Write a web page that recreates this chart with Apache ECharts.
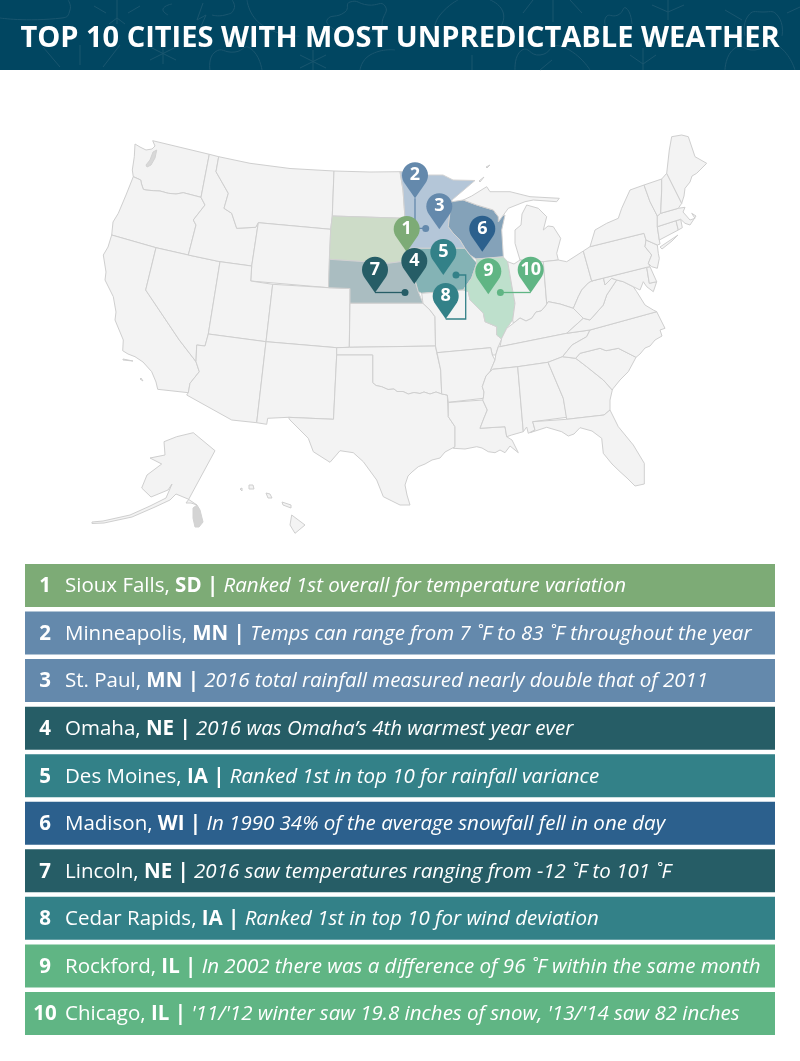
<!DOCTYPE html>
<html>
<head>
<meta charset="utf-8">
<title>Top 10 cities with most unpredictable weather</title>
<script src="https://cdn.jsdelivr.net/npm/echarts@6/dist/echarts.min.js"></script>
<style>
  html, body { margin: 0; padding: 0; background: #fff; }
  #chart { width: 800px; height: 1061px; }
</style>
</head>
<body>
<div id="chart"></div>
<script>
// table rows
const ranks = ['1', '2', '3', '4', '5', '6', '7', '8', '9', '10'];
const cities = ['Sioux Falls', 'Minneapolis', 'St. Paul', 'Omaha', 'Des Moines', 'Madison', 'Lincoln', 'Cedar Rapids', 'Rockford', 'Chicago'];
const stateCodes = ['SD', 'MN', 'MN', 'NE', 'IA', 'WI', 'NE', 'IA', 'IL', 'IL'];
const notes = [
  'Ranked 1st overall for temperature variation',
  'Temps can range from 7 ˚F to 83 ˚F throughout the year',
  '2016 total rainfall measured nearly double that of 2011',
  '2016 was Omaha’s 4th warmest year ever',
  'Ranked 1st in top 10 for rainfall variance',
  'In 1990 34% of the average snowfall fell in one day',
  '2016 saw temperatures ranging from -12 ˚F to 101 ˚F',
  'Ranked 1st in top 10 for wind deviation',
  'In 2002 there was a difference of 96 ˚F within the same month',
  "'11/'12 winter saw 19.8 inches of snow, '13/'14 saw 82 inches"
];
const rankColors = ['#7dab76', '#6489ac', '#6489ac', '#265d66', '#338188', '#2c608d', '#265d66', '#338188', '#60b584', '#60b584'];

// pin tips, map units
const pinTips = [[406.7, 252], [415, 198.3], [439.3, 229.3], [414.3, 284], [443.3, 275], [482.3, 251.7], [375, 292.7], [445.7, 319], [488.3, 294.3], [530.7, 292.7]];

// city markers that sit away from their pin
const leaderRanks = [2, 7, 8, 10];
const leaderPaths = [
  [[415, 198.3], [415, 228.4], [425.7, 228.4]],
  [[375, 292.5], [405, 292.5]],
  [[445.7, 319], [465.7, 319], [465.7, 275], [456, 275]],
  [[530.7, 292.5], [500.4, 292.5]]
];

// highlighted states, and the dense island scribbles that read as grey
const hiStates = ['SD', 'MN', 'WI', 'NE', 'IA', 'IL', 'PS', 'AI'];
const hiColors = ['#cddcc8', '#b4c6d8', '#84a2b9', '#aabdc1', '#84b3b5', '#bee0cc', '#d8d8d8', '#d4d4d4'];

// state outlines, map units
const stateShapes = [
  ['WA', '135,144 140,147 146,150 152,149 155,146 152.7,140.7 209.3,154.3 201,197.3 183.3,192.7 176,194 168.3,193.3 160,191 153.3,190.7 146,190 143.3,189.3 141.5,184 140.7,180 133.3,176.7 132.3,170 134.3,156.7'],
  ['PS', '146,165 150,160 153,152 156.7,150 155,158 151,165 147,167'],
  ['OR', '133.3,176.7 140.7,180 141.5,184 143.3,189.3 146,190 153.3,190.7 160,191 168.3,193.3 176,194 183.3,192.7 201,197.3 205,205 193.3,220 196,225 188.3,255 156,247.7 111.7,235 113,222 118.3,213.3 126,195'],
  ['CA', '111.7,235 156,247.7 145.7,290 179.3,340 196,361.7 199.3,371.7 190,383.3 188.3,392.7 157.7,389.3 156,382 151.7,371.7 143,362 135,356.7 128,354 122.7,350.7 123.3,340 115,320 116,312 113.3,296.7 105,280 106,272 103.3,255 108,247'],
  ['NV', '156,247.7 188.3,255 220,261.7 208.3,334 205,346 196.7,345 196,361.7 179.3,340 145.7,290'],
  ['ID', '209.3,154.3 218.7,156.7 216,171.7 228.3,193.3 224,208.3 231.7,213.3 236.7,228.3 255.7,227.3 258.3,222.7 251.7,266 220,261.7 188.3,255 196,225 193.3,220 205,205 201,197.3'],
  ['MT', '218.7,156.7 250,163.3 290,168.5 334,171 332.3,216 330.7,229.3 258.3,222.7 255.7,227.3 236.7,228.3 231.7,213.3 224,208.3 228.3,193.3 216,171.7'],
  ['WY', '258.3,222.7 330.7,229.3 328.5,287.7 250.7,281 251.7,266'],
  ['UT', '220,261.7 251.7,266 250.7,281 272.7,284.3 266,341.7 208.3,334'],
  ['AZ', '208.3,334 266,341.7 256.7,422.7 231.7,420 186.7,395 188.3,392.7 190,383.3 199.3,371.7 196,361.7 196.7,345 205,346'],
  ['CO', '272.7,284.3 328.5,287.7 350,288.5 349.3,347.3 336.7,347.7 266,341.7'],
  ['NM', '266,341.7 336.7,347.7 336.7,355 333.5,419.3 288.3,417.3 267.7,418.3 266.7,424.3 256.7,422.7'],
  ['ND', '334,171 370,172 400,171.7 403,190 405,218.3 332.3,216'],
  ['SD', '332.3,216 405,218.3 403,225 407,232 407,248 410,262.7 400,261.7 388.3,263.3 329.3,259.3 330.7,229.3'],
  ['NE', '329.3,259.3 388.3,263.3 400,261.7 410,262.7 415,280 418.3,291.7 423,303.3 350,303.3 350,288.5 328.5,287.7'],
  ['KS', '350,303.3 423,303.3 430,310 435,316.7 435.5,346 349.3,347.3'],
  ['OK', '336.7,347.7 349.3,347.3 435.5,346 436.7,352.7 440.7,370 441.7,394 436,392 430,394 424,392 420,393.5 414,392.5 408.3,394 403,391.5 397,391.5 394,389 388,389.5 381.7,386.7 376,385.5 372.7,382.7 372.7,355 336.7,355'],
  ['TX', '336.7,355 372.7,355 372.7,382.7 376,385.5 381.7,386.7 388,389.5 394,389 397,391.5 403,391.5 408.3,394 414,392.5 420,393.5 424,392 430,394 436,392 441.7,394 447.3,395 448.3,416.7 455,426.7 455,446.7 445,452 440,458 432,460 425,464 418.3,466.7 412,472 408,476 405,485 407,495 410,505 400,505 383.3,496.7 376.7,480 363.3,461.7 353.3,452.7 340,450.7 330,462.3 313.3,451.7 308.3,438.3 290,420 288.3,417.3 333.5,419.3'],
  ['MN', '400,171.7 414,171.7 415,166 418,172 428,175 443,175 453,180 475,180.5 452,200 450,212 448.3,226.7 453,233 460,240 465,248.3 408,248.3 407,232 403,225 405,218.3 403,190'],
  ['IA', '408,248.3 465,248.3 470,255 476.7,263 471.7,278 466.7,285 463.3,290 421.7,293.3 418.3,291.7 415,280 410,262.7'],
  ['MO', '421.7,293.3 463.3,290 468.3,291.7 470,300 483.3,313.3 485,321.7 496.7,326.7 496.7,335 501.7,339 498.3,346.7 495.7,355 492.3,355 490.7,347.7 437,352.7 435.5,346 435,316.7 430,310 423,303.3'],
  ['AR', '437,352.7 490.7,347.7 492.3,355 495,360 490,371.7 486,376 482.3,386.7 484,392 483.3,398.3 448.3,402.3 447.3,395 441.7,394 440.7,370'],
  ['LA', '448.3,402.5 482.7,400 487.3,410 484,418 480,428.3 505,426.7 506.7,436.7 512,440 518.3,452.7 510,446 505,452.7 500,450 495,452.7 488.3,451.7 482,448 476.7,446.7 465,449 453.3,448.3 455,446.7 455,426.7 448.3,416.7'],
  ['WI', '451.7,201.7 463.3,200 476.7,205 493.3,210 498.3,216.7 505,215 501.7,230 503.3,256.7 476,259 470,255 465,248.3 460,240 453,233 448.3,226.7 450,212'],
  ['IL', '476,259 503.3,257 507.7,261.7 511.7,285 515,303.3 512.7,320 506.7,328.3 501.7,339 496.7,335 496.7,326.7 485,321.7 483.3,313.3 470,300 468.3,291.7 463.3,290 466.7,285 471.7,278 476.7,263'],
  ['MI', '463.3,200 471.7,196 486.7,186.7 490,191.7 510,191.7 530,196.7 559.3,198.3 556.7,201.7 533.3,200 525,201.7 508.3,208.3 498.3,222 498.3,216.7 493.3,210 476.7,205'],
  ['ML', '543.3,261.7 520,260 515,243.3 515,230 521,225 522,214 526.7,205 538.3,208.3 546.7,216.7 543.3,230 548,226 553.3,226.7 560.7,238.3 556.7,253.3 558.3,260'],
  ['IN', '507.7,261.7 514,264 520,260 543.3,261.7 546.7,303.3 548.3,301.7 545,306.7 541,311 536,312 531.7,318.3 526,321 520,318 513.3,323.3 512.7,320 515,303.3 511.7,285'],
  ['OH', '543.3,261.7 558.3,260 566.7,261.7 583.3,251 591.7,281 588.3,283 581.7,290 578.3,296.7 573.3,308.3 560,304 548.3,301.7 546.7,303.3'],
  ['KY', '500,346.7 501.7,338.3 506.7,328.3 513.3,323.3 520,318 526,321 531.7,318.3 536,312 541,311 545,306.7 548.3,301.7 560,304 573.3,308.3 583.3,318.3 566.7,333.3'],
  ['TN', '500,346.7 566.7,333.3 590,330 586.7,336.7 572,345 562.5,356.7 548,362.3 517.7,366.7 492.7,369.3 490,371.7 495,360 495.7,355 498.3,346.7'],
  ['MS', '492.7,369.3 517.7,366.7 523.3,431.7 511.7,435 506.7,436.7 505,426.7 480,428.3 484,418 487.3,410 482.7,400 483.3,398.3 484,392 482.3,386.7 486,376 490,371.7'],
  ['AL', '517.7,366.7 548,362.3 563.3,398.3 566.7,417.3 532.7,421.7 535,430 528.3,433.3 526.7,427 523.3,431.7'],
  ['GA', '548,362.3 562.5,356.7 575.7,358.3 586.7,366.7 603.3,380 612.3,390 610,400 610,410 604,415 566.7,419.3 563.3,398.3'],
  ['FL', '532.7,421.7 566.7,419.3 604,415 610,410 618.3,426.7 633.3,445 644.3,463.3 644.3,484 635,486 627,478 620,471.7 612,464 603.3,453.3 601.7,438.3 592,431 580,427.7 574,434 568.3,436 561.7,431.7 546.7,427.3 530,432.7 535,430'],
  ['SC', '575.7,358.3 580,353.3 600,348.3 606,350.7 618.3,348.3 636,357.3 628.3,371.7 620,380 613.3,388.3 612.3,390 603.3,380 586.7,366.7'],
  ['NC', '590,330 656.7,311.7 665,328.3 660,330 662,336 655,340 650,346 645,348 640,354 636,357.3 618.3,348.3 606,350.7 600,348.3 580,353.3 575.7,358.3 562.5,356.7 572,345 586.7,336.7'],
  ['VA', '566.7,333.3 583.3,318.3 590,320 603.3,305 606.7,295 616.7,280 623.3,281.7 633.3,286.7 636.7,291.7 645,305 653.3,310 656.7,311.7 590,330'],
  ['WV', '591.7,281 603.3,277.3 605,285 611.7,278.3 616.7,280 606.7,295 603.3,305 590,320 583.3,318.3 573.3,308.3 578.3,296.7 581.7,290 588.3,283'],
  ['MD', '591.7,281 646.7,267.3 649.3,283.3 656.7,281.7 653.3,291.7 646.7,286.7 643.3,281.7 640,290 633.3,286.7 623.3,281.7 616.7,280 611.7,278.3 605,285 603.3,277.3'],
  ['DE', '646.7,267.3 650,266.7 656.7,281.7 649.3,283.3'],
  ['PA', '583.3,251 590,246.7 644,233.3 646,240 645,246.7 651.7,255 648.3,263.3 650,266.7 646.7,267.3 591.7,281'],
  ['NJ', '646,240 657.3,245 658.3,253.3 659.3,258.3 657.3,268.3 651.7,266.7 648.3,263.3 651.7,255 645,246.7'],
  ['NY', '590,246.7 595,230 606.7,223.3 618.3,218.3 621.7,208.3 630,190 644,185 650,201.7 657.3,216 657.3,226.7 659.3,240 660,244 657.3,245 646,240 644,233.3'],
  ['LI', '660,247 678,235 672,241 662,249'],
  ['CT', '657.3,226.7 676,220.7 678.3,230 659.3,240'],
  ['RI', '676,220.7 680.7,219.3 682.3,227.7 678.3,230'],
  ['MA', '657.3,216 660.7,213.3 678.3,208.3 685,207.3 683,212 690,220 695,218.3 691.7,213.3 696,216 690,225 685,223.3 680.7,219.3 676,220.7 657.3,226.7'],
  ['VT', '644,185 661.7,179 661.7,190 660.7,213.3 657.3,216 650,201.7'],
  ['NH', '661.7,179 666.7,173.3 681.7,203.3 678.3,208.3 660.7,213.3 661.7,190'],
  ['ME', '666.7,173.3 669.3,150 671.7,136.7 681.7,135 688.3,136.7 695,156.7 706.7,163.3 700,170 696.7,173.3 692,176 690,182 685,188.3 684,196 681.7,203.3'],
  ['AK', '215,450.7 193.3,432.7 176.7,436.7 164,441.7 165,455 150,458 161.7,464 147,475 141.7,488 151,497 168,490 172,484 166,498 150,506 130,515 103,521 92,522 92,523.5 104,523 132,517 155,507 170,500 176,494 188,499 197,505 191,503 186,503 188.3,500'],
  ['AI', '197,505 200,510 203,522 199,527 195,527 193,518 193,508'],
  ['HI', '291.7,515 305,525 295,533.3 290,525'],
  ['HM', '282,502 291,505 291,508 283,505'],
  ['HO', '266,493 270,494 272,498 268,498'],
  ['HK', '249,485 253,485 254,489 249,489'],
  ['HN', '240,489 242,488 242,491'],
  ['CI', '123,359 133,361 133,362 123,360'],
  ['CC', '141,378 143,381 142,382 140,379'],
  ['IR', '486,167 490,165 490,166 487,168'],
  ['AP', '479,181 484,177 484,178 480,182']
];

// header line art: straight strokes, then rounded cloud outlines
const headerLines = [
  '117,0 117,24', '106,13 94,6', '128,13 140,6', '117,18 109,24', '117,18 125,24',
  '203,3 197,20 206,15 199,31', '80,45 80,65', '43,47 60,67', '120,45 103,67',
  '163,42 163,64', '150,47 176,60', '176,47 150,60', '313,50 313,70', '300,55 326,68', '326,55 300,68',
  '523,13 533,0', '553,0 553,22', '570,0 582,13', '668,0 668,20', '652,5 668,12 684,5',
  '725,10 742,20', '787,13 800,7', '643,48 643,70', '630,55 643,64 656,55', '472,55 472,70', '552,60 540,70'
];
const headerClouds = [
  '0,18 62,18 70,10 68,0', '168,15 163,9 172,4', '212,15 225,15 234,9 232,0', '247,0 262,25 300,36',
  '335,30 327,20 345,12 350,2 368,5 385,6 382,25 385,30 335,30', '210,70 215,52 235,52 250,48 262,70',
  '360,70 370,55 395,50', '434,30 440,15 458,0', '490,0 503,12 500,28', '607,30 606,17 618,15 626,8 632,24',
  '745,36 748,16 763,12 778,16 782,36', '515,70 522,50 540,55 560,46 590,70', '725,70 735,48 755,50 775,44 795,70'
];

const toPoints = (text) => text.split(' ').map((pair) => pair.split(',').map(Number));
const toPolygon = (text) => {
  const ring = toPoints(text);
  ring.push(ring[0]);
  return [ring];
};

const usa = {
  type: 'FeatureCollection',
  features: stateShapes.map((item) => ({
    type: 'Feature',
    properties: { name: item[0] },
    geometry: { type: 'Polygon', coordinates: toPolygon(item[1]) }
  }))
};
echarts.registerMap('usa', usa);

// the map units are page pixels, so the box is simply the outlines' extent
let xs = [], ys = [];
usa.features.forEach((f) => f.geometry.coordinates[0].forEach((p) => { xs.push(p[0]); ys.push(p[1]); }));
const mapLeft = Math.min(...xs), mapTop = Math.min(...ys);
const mapWidth = Math.max(...xs) - mapLeft, mapHeight = Math.max(...ys) - mapTop;

const rowLabels = ranks.map((r, i) => `{num|${r}}{city|${cities[i]}, }{code|${stateCodes[i]}}{bar| | }{note|${notes[i]}}`);

const artStyle = { fill: 'none', stroke: '#1a566f', lineWidth: 1 };
const artItem = (text, smooth) => ({
  type: 'polyline', z: -1, silent: true,
  shape: { points: toPoints(text), smooth },
  style: artStyle
});

const myChart = echarts.init(document.querySelector('#chart'));
const textFont = '"Open Sans", sans-serif';
myChart.setOption({
  animation: false,
  backgroundColor: '#fff',
  title: {
    text: 'TOP 10 CITIES WITH MOST UNPREDICTABLE WEATHER',
    left: 'center',
    top: 14,
    textStyle: { color: '#fff', fontFamily: textFont, fontWeight: 700, fontSize: 29, lineHeight: 40 }
  },
  graphic: [
    { type: 'rect', z: -2, silent: true, shape: { x: 0, y: 0, width: 800, height: 70 }, style: { fill: '#014661' } }
  ].concat(headerLines.map((t) => artItem(t, 0)), headerClouds.map((t) => artItem(t, 0.6))),
  geo: {
    map: 'usa',
    silent: true,
    roam: false,
    projection: { project: (p) => p, unproject: (p) => p },
    left: mapLeft, top: mapTop, width: mapWidth, height: mapHeight,
    label: { show: false },
    itemStyle: { areaColor: '#f3f3f3', borderColor: '#cfcfcf', borderWidth: 1 },
    regions: hiStates.map((name, i) => ({ name, itemStyle: { areaColor: hiColors[i], borderColor: '#d2d2d2' } }))
  },
  grid: { left: 25, right: 25, top: 561.7, height: 475.5 },
  xAxis: { type: 'value', min: 0, max: 1, show: false },
  yAxis: { type: 'category', inverse: true, show: false, data: ranks },
  series: [
    {
      type: 'bar',
      barWidth: 43,
      silent: true,
      data: ranks.map((r, i) => ({ value: 1, itemStyle: { color: rankColors[i] } })),
      label: {
        show: true,
        position: 'insideLeft',
        distance: 0,
        offset: [0, 1],
        formatter: (p) => rowLabels[p.dataIndex],
        rich: {
          num: { width: 40, align: 'center', color: '#fff', fontFamily: textFont, fontWeight: 700, fontSize: 20.5 },
          city: { color: '#fff', fontFamily: textFont, fontSize: 20.5 },
          code: { color: '#fff', fontFamily: textFont, fontWeight: 700, fontSize: 20.5 },
          bar: { color: '#fff', fontFamily: textFont, fontWeight: 700, fontSize: 20.5 },
          note: { color: '#fff', fontFamily: textFont, fontStyle: 'italic', fontSize: 20.5 }
        }
      }
    },
    {
      type: 'lines',
      coordinateSystem: 'geo',
      polyline: true,
      silent: true,
      z: 3,
      lineStyle: { width: 1.3, opacity: 1 },
      data: leaderPaths.map((coords, i) => ({ coords, lineStyle: { color: rankColors[leaderRanks[i] - 1] } }))
    },
    {
      type: 'scatter',
      coordinateSystem: 'geo',
      silent: true,
      z: 4,
      symbol: 'circle',
      symbolSize: 7,
      data: leaderPaths.map((path, i) => ({ value: path[path.length - 1], itemStyle: { color: rankColors[leaderRanks[i] - 1], opacity: 1 } }))
    },
    {
      type: 'scatter',
      coordinateSystem: 'geo',
      silent: true,
      z: 5,
      symbol: 'path://M13 0C5.8 0 0 5.8 0 13c0 3 1 5.6 2.6 8L13 36l10.4-15c1.6-2.4 2.6-5 2.6-8C26 5.8 20.2 0 13 0Z',
      symbolSize: [26, 36],
      symbolOffset: [0, '-50%'],
      data: pinTips.map((tip, i) => ({ value: tip, itemStyle: { color: rankColors[i], opacity: 1 } })),
      label: {
        show: true,
        position: 'inside',
        offset: [0, -5],
        color: '#fff',
        fontFamily: textFont,
        fontWeight: 700,
        fontSize: 18,
        formatter: (p) => ranks[p.dataIndex]
      }
    }
  ]
});
</script>
</body>
</html>
